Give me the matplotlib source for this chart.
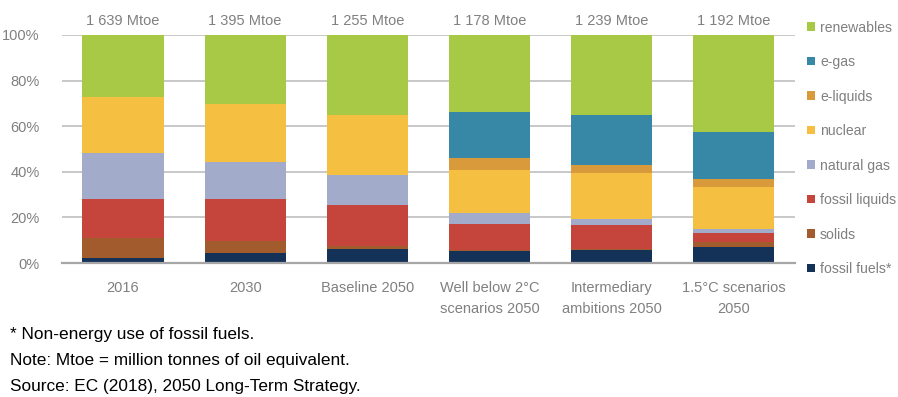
import numpy as np
import matplotlib
matplotlib.use("Agg")
import matplotlib.pyplot as plt
from matplotlib.patches import Patch

plt.rcParams['font.family'] = ['Liberation Sans', 'DejaVu Sans']

categories = ["2016", "2030", "Baseline 2050", "Well below 2°C\nscenarios 2050",
              "Intermediary\nambitions 2050", "1.5°C scenarios\n2050"]
totals = ["1 639 Mtoe", "1 395 Mtoe", "1 255 Mtoe", "1 178 Mtoe", "1 239 Mtoe", "1 192 Mtoe"]

# shares in % (bottom to top)
fossil_fuels = [2.2, 4.4, 6.1, 5.1, 5.5, 7.2]
solids = [8.6, 5.2, 1.5, 0.6, 0.6, 2.0]
fossil_liquids = [17.4, 18.6, 17.9, 11.2, 10.4, 3.8]
natural_gas = [20.1, 16.3, 13.2, 4.9, 2.8, 1.9]
nuclear = [24.7, 25.1, 26.1, 18.9, 20.0, 18.5]
e_liquids = [0.0, 0.0, 0.0, 5.4, 3.5, 3.5]
e_gas = [0.0, 0.0, 0.0, 19.9, 22.0, 20.5]
renewables = [27.0, 30.4, 35.2, 34.0, 35.2, 42.6]

series = [
    ("fossil fuels*", fossil_fuels, "#143158"),
    ("solids", solids, "#A15B2C"),
    ("fossil liquids", fossil_liquids, "#C5453C"),
    ("natural gas", natural_gas, "#A2ABC9"),
    ("nuclear", nuclear, "#F5BF42"),
    ("e-liquids", e_liquids, "#D89A3A"),
    ("e-gas", e_gas, "#3787A7"),
    ("renewables", renewables, "#A7C945"),
]

fig = plt.figure(figsize=(8.98, 3.97), dpi=100)
ax = fig.add_axes([0.069, 0.3375, 0.816, 0.5745])

x = np.arange(len(categories))
bottom = np.zeros(len(categories))
for name, vals, color in series:
    v = np.array(vals)
    ax.bar(x, v, bottom=bottom, width=0.665, color=color, label=name, zorder=3)
    bottom += v

ax.set_xlim(-0.5, len(categories) - 0.5)
ax.set_ylim(0, 100)
ax.set_yticks(np.arange(0, 101, 20))
ax.set_yticklabels([f"{t}%" for t in range(0, 101, 20)])
ax.yaxis.grid(True, color="#BFBFBF", linewidth=1.2, zorder=0)
ax.set_axisbelow(True)
for s in ["top", "right", "left"]:
    ax.spines[s].set_visible(False)
ax.spines["bottom"].set_color("#A6A6A6")
ax.spines["bottom"].set_linewidth(1.6)
ax.spines["bottom"].set_zorder(4)

ax.tick_params(axis="both", length=0, colors="#808080", labelsize=10.5)
ax.tick_params(axis="y", pad=16)
ax.tick_params(axis="x", pad=13)
ax.set_xticks(x)
ax.set_xticklabels(categories, linespacing=1.65)

for xi, t in zip(x, totals):
    ax.text(xi, 103.0, t, ha="center", va="bottom", color="#808080", fontsize=10.5)

handles = [Patch(facecolor=c, edgecolor="none", label=n) for n, _, c in series][::-1]
fig.legend(handles=handles, loc="upper left", bbox_to_anchor=(0.899, 0.948),
           frameon=False, fontsize=10.1, labelcolor="#808080",
           handlelength=0.57, handleheight=0.57, handletextpad=0.33,
           labelspacing=1.46, borderpad=0, borderaxespad=0)

notes = ["* Non-energy use of fossil fuels.",
         "Note: Mtoe = million tonnes of oil equivalent.",
         "Source: EC (2018), 2050 Long-Term Strategy."]
for i, n in enumerate(notes):
    fig.text(0.011, 1 - (334 + 26.5 * i) / 397, n, ha="left", va="center",
             fontsize=12.4, color="#000000")

fig.savefig("out.png", dpi=100)
